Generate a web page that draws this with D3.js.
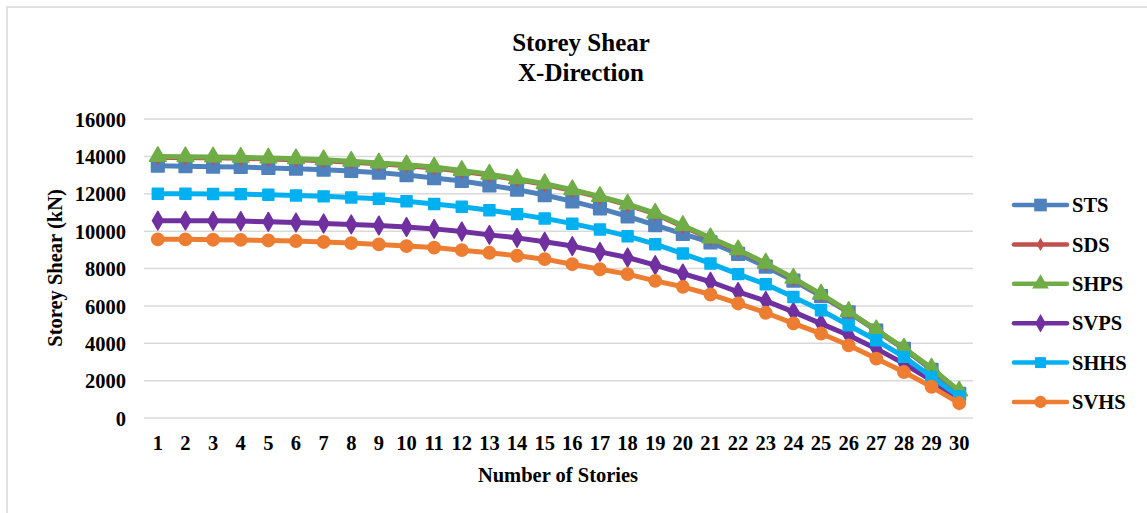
<!DOCTYPE html>
<html>
<head>
<meta charset="utf-8">
<script src="https://cdn.jsdelivr.net/npm/d3@7"></script>
<style>
  body { margin: 0; background: #fff; }
  text { font-family: "Liberation Serif", "Times New Roman", serif; font-weight: bold; fill: #000; }
</style>
</head>
<body>
<div id="chart"></div>
<script>
// storey numbers 1..30
const stories = ["1","2","3","4","5","6","7","8","9","10","11","12","13","14","15","16","17","18","19","20","21","22","23","24","25","26","27","28","29","30"];
const yTicks = [0, 2000, 4000, 6000, 8000, 10000, 12000, 14000, 16000];

const STS  = [13500,13470,13450,13430,13380,13340,13290,13220,13130,13000,12840,12680,12450,12220,11930,11590,11220,10790,10320,9850,9400,8780,8100,7350,6520,5650,4680,3700,2580,1300];
const SDS  = [13950,13930,13920,13900,13860,13820,13770,13690,13600,13500,13380,13200,13000,12760,12490,12170,11820,11400,10920,10250,9600,8970,8260,7450,6600,5680,4700,3720,2650,1420];
const SHPS = [14000,13980,13970,13950,13910,13870,13820,13740,13650,13550,13430,13250,13050,12800,12540,12220,11860,11450,10960,10300,9640,9000,8290,7480,6630,5700,4720,3740,2670,1450];
const SVPS = [10560,10560,10550,10540,10500,10460,10410,10360,10300,10220,10120,9980,9800,9640,9430,9200,8890,8590,8180,7730,7290,6750,6270,5680,5050,4430,3710,2910,2020,950];
const SHHS = [12000,12000,11990,11980,11950,11910,11860,11800,11730,11600,11450,11300,11120,10910,10680,10400,10090,9730,9300,8800,8270,7700,7160,6480,5770,4960,4160,3270,2200,1150];
const SVHS = [9560,9560,9540,9530,9500,9470,9420,9360,9290,9200,9120,8980,8840,8680,8500,8230,7960,7700,7340,7020,6610,6130,5630,5060,4520,3890,3180,2460,1670,800];

const series = [
  { name: "STS",  values: STS,  color: "#4F81BD", marker: "square",   size: 160 },
  { name: "SDS",  values: SDS,  color: "#C0504D", marker: "diamond",  size: 50 },
  { name: "SHPS", values: SHPS, color: "#70AD47", marker: "triangle", size: 120 },
  { name: "SVPS", values: SVPS, color: "#7030A0", marker: "diamond",  size: 100 },
  { name: "SHHS", values: SHHS, color: "#00B0F0", marker: "square",   size: 120 },
  { name: "SVHS", values: SVHS, color: "#ED7D31", marker: "circle",   size: 120 }
];

const symbolTypes = {
  square: d3.symbolSquare,
  diamond: d3.symbolDiamond,
  triangle: d3.symbolTriangle,
  circle: d3.symbolCircle
};

const W = 1147, H = 513;
const plot = { left: 144, right: 973, top: 119, bottom: 418 };

const svg = d3.select("#chart").append("svg")
  .attr("width", W).attr("height", H);

svg.append("rect")
  .attr("x", 7).attr("y", 7)
  .attr("width", W + 20).attr("height", H + 20)
  .attr("fill", "#fff").attr("stroke", "#D9D9D9").attr("stroke-width", 1.5);

const x = d3.scaleBand().domain(stories).range([plot.left, plot.right]);
const y = d3.scaleLinear().domain([0, 16000]).range([plot.bottom, plot.top]);

// gridlines
svg.append("g").selectAll("line")
  .data(yTicks)
  .join("line")
  .attr("x1", plot.left).attr("x2", plot.right)
  .attr("y1", d => y(d)).attr("y2", d => y(d))
  .attr("stroke", "#D9D9D9").attr("stroke-width", 1.5);

// y axis labels
const yAxis = svg.append("g")
  .attr("transform", `translate(${plot.left - 18},0)`)
  .call(d3.axisLeft(y).tickValues(yTicks).tickSize(0).tickPadding(0).tickFormat(d3.format("d")));
yAxis.select(".domain").remove();
yAxis.selectAll("text").attr("font-size", 20.5).attr("dy", "0.35em");

// x axis labels
const xAxis = svg.append("g")
  .attr("transform", `translate(0,${plot.bottom + 17})`)
  .call(d3.axisBottom(x).tickSize(0).tickPadding(0));
xAxis.select(".domain").remove();
xAxis.selectAll("text").attr("font-size", 20.5).attr("dy", "0.75em");

const cx = d => x(d) + x.bandwidth() / 2;

const line = d3.line()
  .x((d, i) => cx(stories[i]))
  .y(d => y(d));

series.forEach(s => {
  const g = svg.append("g");
  g.append("path")
    .datum(s.values)
    .attr("d", line)
    .attr("fill", "none")
    .attr("stroke", s.color)
    .attr("stroke-width", 5)
    .attr("stroke-linejoin", "round")
    .attr("stroke-linecap", "round");
  g.selectAll("path.mk")
    .data(s.values)
    .join("path")
    .attr("class", "mk")
    .attr("d", d3.symbol().type(symbolTypes[s.marker]).size(s.size))
    .attr("transform", (d, i) => `translate(${cx(stories[i])},${y(d)})`)
    .attr("fill", s.color)
    .attr("stroke", s.color)
    .attr("stroke-width", 1.5)
    .attr("stroke-linejoin", "round");
});

// titles
svg.append("text")
  .attr("x", 581).attr("y", 51)
  .attr("text-anchor", "middle").attr("font-size", 25)
  .text("Storey Shear");
svg.append("text")
  .attr("x", 581).attr("y", 81)
  .attr("text-anchor", "middle").attr("font-size", 25)
  .text("X-Direction");

svg.append("text")
  .attr("transform", `translate(62,268) rotate(-90)`)
  .attr("text-anchor", "middle").attr("font-size", 20.5)
  .text("Storey Shear (kN)");

svg.append("text")
  .attr("x", 558).attr("y", 482)
  .attr("text-anchor", "middle").attr("font-size", 20.5)
  .text("Number of Stories");

// legend
const legend = svg.append("g");
const legendY = d3.scalePoint().domain(series.map(s => s.name)).range([205, 402]);
series.forEach(s => {
  const ly = legendY(s.name);
  legend.append("line")
    .attr("x1", 1014).attr("x2", 1067)
    .attr("y1", ly).attr("y2", ly)
    .attr("stroke", s.color).attr("stroke-width", 4.5)
    .attr("stroke-linecap", "round");
  legend.append("path")
    .attr("d", d3.symbol().type(symbolTypes[s.marker]).size(s.size))
    .attr("transform", `translate(1040.5,${ly})`)
    .attr("fill", s.color);
  legend.append("text")
    .attr("x", 1072).attr("y", ly)
    .attr("dy", "0.35em").attr("font-size", 20.5)
    .text(s.name);
});
</script>
</body>
</html>
